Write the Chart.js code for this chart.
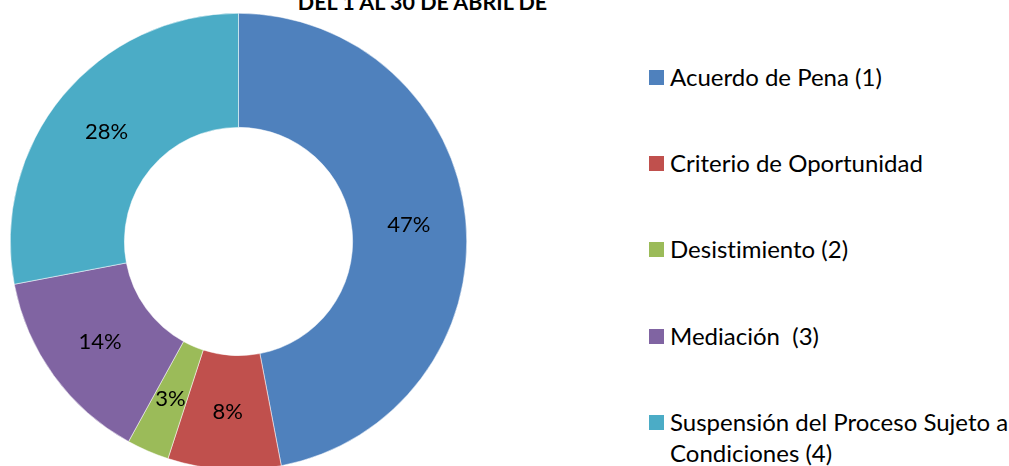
<!DOCTYPE html>
<html>
<head>
<meta charset="utf-8">
<script src="https://cdn.jsdelivr.net/npm/chart.js@4"></script>
<style>
  html, body { margin: 0; padding: 0; width: 1009px; height: 466px; overflow: hidden; background: #fff; font-family: Lato, "Open Sans", sans-serif; font-variant-ligatures: none; }
  #titulo { position: absolute; left: 0; width: 845px; top: -10px; text-align: center; font-weight: bold; font-size: 21.5px; line-height: 24px; color: #000; }
  #cajaGrafico { position: absolute; left: 10px; top: 12.5px; width: 457px; height: 457px; }
  #leyenda { position: absolute; left: 649px; top: 0; width: 360px; }
  .item { position: absolute; left: 0; width: 360px; font-size: 24px; line-height: 31px; color: #000; }
  .caja { position: absolute; left: 0; width: 15px; height: 15px; }
  .texto { position: absolute; left: 21px; white-space: pre; }
</style>
</head>
<body>
<div id="titulo">DEL 1 AL 30 DE ABRIL DE</div>
<div id="cajaGrafico"><canvas id="myChart"></canvas></div>
<div id="leyenda"></div>
<script>
// -----------------------DATOS---------------------
const categorias = [
    'Acuerdo de Pena (1)',
    'Criterio de Oportunidad',
    'Desistimiento (2)',
    'Mediación  (3)',
    ['Suspensión del Proceso Sujeto a', 'Condiciones (4)']
];
const porcentajes = [47, 8, 3, 14, 28];
const colores = ['#4F81BD', '#C0504D', '#9BBB59', '#8064A2', '#4BACC6'];

//etiquetas de porcentaje dentro de cada sector
const etiquetasPct = {
    id: 'etiquetasPct',
    afterDatasetsDraw(chart) {
        const ctx = chart.ctx
        const meta = chart.getDatasetMeta(0)
        const total = porcentajes.reduce((a, b) => a + b, 0)
        ctx.save()
        ctx.font = '22px Lato, "Open Sans", sans-serif'
        ctx.fillStyle = '#000'
        ctx.textAlign = 'center'
        ctx.textBaseline = 'middle'
        meta.data.forEach((arco, i) => {
            const p = arco.tooltipPosition()
            ctx.fillText(Math.round(porcentajes[i] / total * 100) + '%', p.x, p.y)
        })
        ctx.restore()
    }
}

const ctx = document.getElementById('myChart')
const chart = new Chart(ctx, {
    type: 'doughnut',
    data: {
        labels: categorias,
        datasets: [{
            data: porcentajes,
            backgroundColor: colores,
            borderColor: '#ffffff',
            borderWidth: 0.5
        }]
    },
    options: {
        responsive: true,
        maintainAspectRatio: false,
        animation: false,
        cutout: '50%',
        layout: { padding: 0 },
        plugins: {
            legend: { display: false },
            tooltip: { enabled: false }
        }
    },
    plugins: [etiquetasPct]
})

//LEYENDA
const leyenda = document.getElementById('leyenda')
const centrosY = [77, 163, 249, 336, 422]
categorias.forEach((cat, i) => {
    const item = document.createElement('div')
    item.className = 'item'
    item.style.top = (centrosY[i] - 16.5) + 'px'
    const caja = document.createElement('div')
    caja.className = 'caja'
    caja.style.top = '9px'
    caja.style.background = colores[i]
    const texto = document.createElement('div')
    texto.className = 'texto'
    texto.textContent = Array.isArray(cat) ? cat.join('\n') : cat
    item.appendChild(caja)
    item.appendChild(texto)
    leyenda.appendChild(item)
})
</script>
</body>
</html>
